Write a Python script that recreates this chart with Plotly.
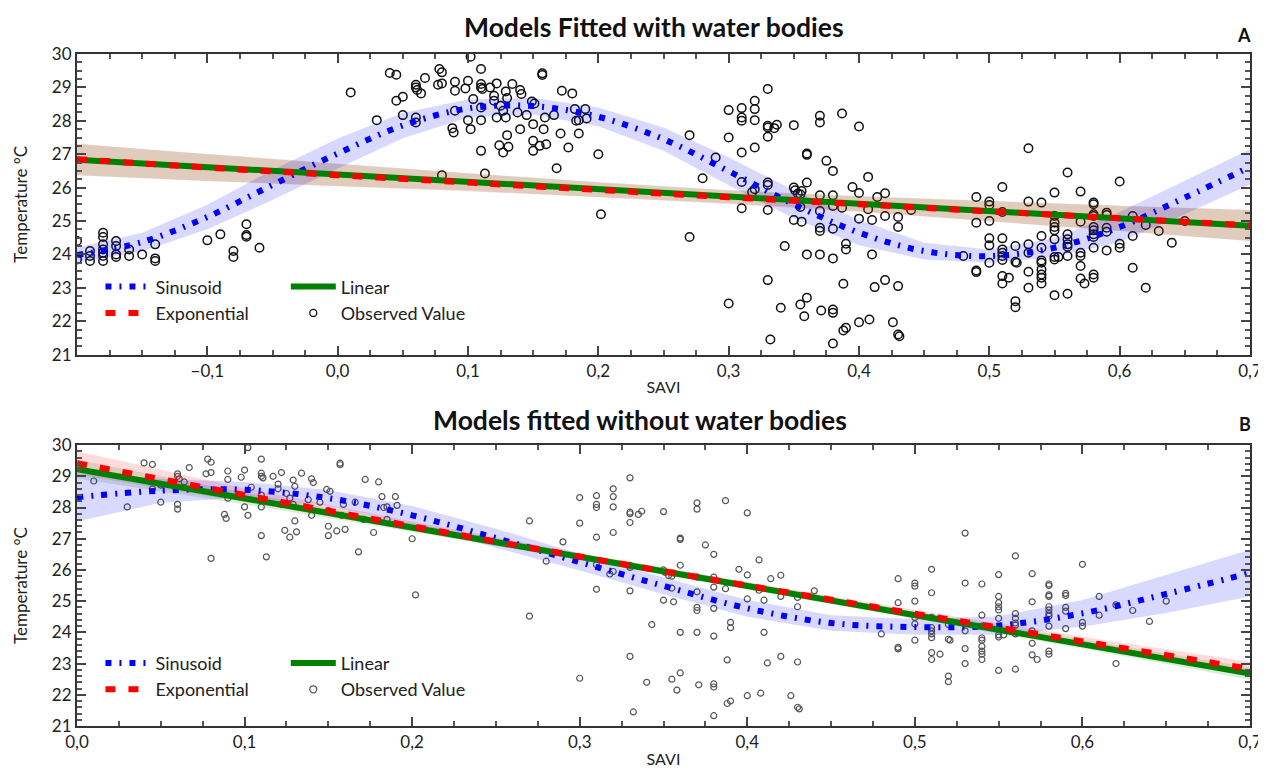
import plotly.graph_objects as go
from plotly.subplots import make_subplots

# ---------------- data ----------------
obs_x = [
    -0.20, -0.20, -0.19, -0.19, -0.19, -0.18, -0.18, -0.18, -0.18, -0.18, -0.18, -0.18,
    -0.17, -0.17, -0.17, -0.17, -0.16, -0.16, -0.15, -0.14, -0.14, -0.14,
    -0.10, -0.09, -0.08, -0.08, -0.07, -0.07, -0.07, -0.06, 0.01,
    0.03, 0.04, 0.045, 0.045, 0.05, 0.05, 0.06, 0.06, 0.061, 0.06, 0.06, 0.064, 0.067,
    0.078, 0.08, 0.077, 0.08, 0.088, 0.089, 0.09, 0.09, 0.09, 0.08, 0.098, 0.10, 0.102,
    0.10, 0.102, 0.104, 0.11, 0.11, 0.11, 0.111, 0.11, 0.11, 0.11, 0.113, 0.117, 0.12,
    0.12, 0.122, 0.122, 0.124, 0.125, 0.127, 0.127, 0.129, 0.13, 0.129, 0.13, 0.131,
    0.134, 0.138, 0.14, 0.141, 0.14, 0.145, 0.149, 0.15, 0.15, 0.15, 0.151, 0.155,
    0.157, 0.157, 0.159, 0.16, 0.158, 0.166, 0.168, 0.171, 0.172, 0.177, 0.18, 0.182,
    0.183, 0.185, 0.185, 0.19, 0.191, 0.20, 0.202,
    0.27, 0.27, 0.28, 0.29, 0.30, 0.30, 0.30, 0.31, 0.31, 0.31, 0.31, 0.31, 0.31,
    0.32, 0.32, 0.32, 0.32, 0.318, 0.32, 0.33, 0.33, 0.33, 0.33, 0.33, 0.33, 0.33,
    0.33, 0.332, 0.335, 0.337, 0.34, 0.343, 0.35, 0.35, 0.351, 0.353, 0.355, 0.356,
    0.35, 0.356, 0.355, 0.355, 0.358, 0.36, 0.36, 0.36, 0.36, 0.36, 0.37, 0.37, 0.37,
    0.37, 0.37, 0.37, 0.37, 0.371, 0.375, 0.38, 0.38, 0.38, 0.38, 0.38, 0.38, 0.38,
    0.38, 0.387, 0.387, 0.39, 0.39, 0.388, 0.388, 0.39, 0.395, 0.40, 0.40, 0.40, 0.40,
    0.407, 0.407, 0.408, 0.41, 0.41, 0.412, 0.414, 0.42, 0.42, 0.42, 0.426, 0.43, 0.43,
    0.43, 0.43, 0.431, 0.44,
    0.48, 0.49, 0.49, 0.49, 0.49, 0.50, 0.50, 0.50, 0.50, 0.50, 0.50, 0.51, 0.51, 0.51,
    0.51, 0.51, 0.51, 0.51, 0.51, 0.51, 0.515, 0.52, 0.52, 0.521, 0.52, 0.52, 0.53, 0.53,
    0.53, 0.53, 0.53, 0.53, 0.54, 0.54, 0.54, 0.54, 0.54, 0.54, 0.54, 0.54, 0.54, 0.55,
    0.55, 0.55, 0.55, 0.55, 0.55, 0.55, 0.55, 0.553, 0.55, 0.56, 0.56, 0.56, 0.56, 0.56,
    0.56, 0.56, 0.57, 0.57, 0.57, 0.57, 0.57, 0.57, 0.573, 0.58, 0.58, 0.58, 0.58, 0.58,
    0.58, 0.58, 0.58, 0.58, 0.58, 0.58, 0.59, 0.59, 0.59, 0.59, 0.59, 0.60, 0.60, 0.60,
    0.61, 0.61, 0.61, 0.62, 0.62, 0.63, 0.64, 0.65,
]
obs_y = [
    24.40, 23.85, 24.10, 23.95, 23.80, 24.65, 24.52, 24.30, 24.15, 24.05, 23.95, 23.80,
    24.40, 24.25, 24.00, 23.92, 24.15, 23.95, 24.00, 24.30, 23.88, 23.80,
    24.42, 24.60, 24.10, 23.92, 24.90, 24.58, 24.53, 24.20, 28.85,
    28.02, 29.43, 29.38, 28.60, 28.72, 28.17, 29.08, 29.00, 28.92, 28.10, 27.95, 28.82, 29.28,
    29.55, 29.45, 29.08, 29.12, 27.78, 27.65, 29.17, 28.90, 28.30, 26.37, 28.97, 29.20, 29.92,
    28.02, 27.75, 28.65, 29.55, 29.10, 29.00, 28.95, 28.40, 28.02, 27.10, 26.42, 29.00, 28.75,
    28.60, 29.12, 28.10, 27.27, 28.45, 28.30, 27.05, 28.88, 28.68, 28.10, 27.57, 27.22,
    29.10, 28.25, 28.92, 28.80, 27.75, 28.17, 28.58, 27.90, 27.40, 27.10, 28.52, 27.25,
    29.42, 29.37, 28.10, 27.30, 27.75, 28.17, 26.58, 27.62, 28.90, 27.20, 28.82, 28.35,
    28.00, 28.02, 27.62, 28.35, 28.07, 27.00, 25.20,
    27.57, 24.52, 26.28, 26.90, 28.32, 27.50, 22.53, 28.38, 28.10, 28.00, 27.05, 26.17, 25.38,
    28.60, 28.35, 28.02, 27.20, 25.87, 25.95, 28.95, 27.85, 27.80, 27.52, 26.15, 26.08, 25.33,
    23.23, 21.45, 27.78, 27.88, 22.40, 24.25, 27.87, 26.00, 25.92, 25.82, 25.80, 25.90,
    25.03, 24.98, 25.42, 22.50, 22.15, 27.02, 26.98, 26.15, 22.70, 24.00, 28.15, 27.95, 25.77,
    25.30, 24.80, 24.70, 24.00, 22.32, 26.80, 26.50, 25.77, 25.45, 24.77, 23.88, 22.35, 22.25,
    21.33, 28.22, 25.40, 24.32, 24.15, 23.12, 21.72, 21.80, 26.02, 27.83, 25.84, 25.07, 21.97,
    26.32, 25.35, 22.05, 25.03, 24.00, 23.02, 25.72, 25.83, 25.15, 23.23, 21.97, 25.12, 24.82,
    23.05, 21.60, 21.55, 25.33,
    23.95, 25.72, 24.95, 23.52, 23.47, 25.58, 25.48, 25.00, 24.48, 24.27, 23.75, 26.02, 25.27,
    24.48, 24.15, 24.05, 23.95, 23.83, 23.35, 23.13, 23.30, 24.25, 23.78, 23.75, 22.60, 22.42,
    27.18, 25.58, 24.30, 24.05, 23.48, 23.00, 25.55, 24.55, 24.20, 23.82, 23.75, 23.55, 23.40,
    23.30, 23.13, 25.85, 25.15, 24.95, 24.82, 24.72, 24.45, 23.92, 23.85, 23.92, 22.78, 26.45,
    24.60, 24.45, 24.30, 24.23, 23.95, 22.82, 25.88, 24.98, 24.05, 23.95, 23.65, 23.28, 23.13,
    25.55, 25.50, 25.20, 25.15, 24.82, 24.72, 24.60, 24.52, 24.20, 23.40, 23.30, 25.25, 25.18,
    24.80, 24.68, 24.12, 26.18, 24.32, 24.20, 25.15, 24.55, 23.60, 24.88, 23.00, 24.70, 24.35,
    25.00,
]

# Panel A fitted models
xA_sin = [-0.20, -0.15, -0.10, -0.05, 0.00, 0.05, 0.10, 0.15, 0.20, 0.25, 0.30, 0.35,
          0.40, 0.45, 0.50, 0.55, 0.60, 0.65, 0.70]
sinA = [23.98, 24.37, 25.12, 26.08, 27.02, 27.86, 28.37, 28.44, 28.12, 27.45, 26.49, 25.50,
        24.65, 24.10, 23.95, 24.20, 24.82, 25.70, 26.62]
sinA_lo = [23.75, 24.09, 24.75, 25.63, 26.57, 27.48, 28.10, 28.19, 27.84, 27.10, 26.07, 25.08,
           24.27, 23.85, 23.75, 23.92, 24.37, 25.20, 26.09]
sinA_hi = [24.21, 24.65, 25.49, 26.53, 27.47, 28.24, 28.64, 28.69, 28.40, 27.80, 26.91, 25.92,
           25.03, 24.35, 24.15, 24.48, 25.27, 26.20, 27.15]
xA_lin = [-0.2, -0.1, 0.0, 0.1, 0.2, 0.3, 0.4, 0.5, 0.6, 0.7]
linA = [26.83, 26.61, 26.39, 26.17, 25.95, 25.73, 25.52, 25.30, 25.08, 24.86]
linA_lo = [26.36, 26.21, 26.05, 25.91, 25.73, 25.53, 25.29, 25.00, 24.70, 24.39]
linA_hi = [27.30, 27.01, 26.73, 26.43, 26.17, 25.93, 25.75, 25.60, 25.46, 25.33]
expA = [26.85, 26.60, 26.37, 26.15, 25.93, 25.71, 25.50, 25.29, 25.08, 24.87]
expA_lo = [26.38, 26.19, 26.04, 25.89, 25.71, 25.51, 25.27, 24.99, 24.71, 24.41]
expA_hi = [27.32, 27.00, 26.71, 26.42, 26.15, 25.91, 25.73, 25.59, 25.45, 25.33]

# Panel B fitted models
xB_sin = [0.00, 0.05, 0.10, 0.15, 0.20, 0.25, 0.30, 0.35, 0.40, 0.45, 0.50, 0.55, 0.60, 0.65, 0.70]
sinB = [28.33, 28.54, 28.57, 28.30, 27.75, 27.02, 26.25, 25.49, 24.77, 24.30, 24.17, 24.22,
        24.61, 25.23, 25.90]
sinB_lo = [27.55, 28.15, 28.32, 28.05, 27.45, 26.72, 25.98, 25.22, 24.50, 24.05, 23.92, 23.92,
           24.18, 24.62, 25.15]
sinB_hi = [29.10, 28.92, 28.82, 28.56, 28.05, 27.32, 26.52, 25.76, 25.04, 24.55, 24.42, 24.52,
           25.04, 25.84, 26.65]
xB_lin = [0.0, 0.1, 0.2, 0.3, 0.4, 0.5, 0.6, 0.7]
linB = [29.23, 28.29, 27.36, 26.42, 25.49, 24.55, 23.62, 22.68]
linB_lo = [28.93, 28.10, 27.22, 26.31, 25.38, 24.44, 23.48, 22.48]
linB_hi = [29.53, 28.48, 27.50, 26.53, 25.60, 24.66, 23.76, 22.88]
expB = [29.42, 28.40, 27.40, 26.43, 25.50, 24.60, 23.71, 22.83]
expB_lo = [29.05, 28.18, 27.25, 26.32, 25.39, 24.48, 23.56, 22.60]
expB_hi = [29.80, 28.62, 27.55, 26.54, 25.61, 24.72, 23.86, 23.06]

# axis tick labels
xticksA = [-0.1, 0.0, 0.1, 0.2, 0.3, 0.4, 0.5, 0.6, 0.7]
xticksB = [0.0, 0.1, 0.2, 0.3, 0.4, 0.5, 0.6, 0.7]
yticks = [21, 22, 23, 24, 25, 26, 27, 28, 29, 30]

titles = ["Models Fitted with water bodies", "Models fitted without water bodies"]
panel_labels = ["A", "B"]

# ---------------- figure ----------------
FONT = "Lato"
BLUE, RED, GREEN = "rgb(0,0,255)", "rgb(255,0,0)", "rgb(0,128,0)"

fig = make_subplots(rows=2, cols=1)


def band(x, lo, hi, color, row):
    fig.add_trace(go.Scatter(x=list(x) + list(x)[::-1], y=list(hi) + list(lo)[::-1],
                             fill="toself", fillcolor=color, line=dict(width=0),
                             mode="lines", hoverinfo="skip", showlegend=False),
                  row=row, col=1)


def panel(row, ox, oy, xs, s, s_lo, s_hi, xl, l, l_lo, l_hi, e, e_lo, e_hi,
          msize, mcolor, mline, lg1, lg2):
    fig.add_trace(go.Scatter(x=ox, y=oy, mode="markers", name="Observed Value",
                             marker=dict(symbol="circle-open", size=msize, color=mcolor,
                                         line=dict(width=mline, color=mcolor)),
                             legend=lg2, showlegend=False), row=row, col=1)
    band(xl, l_lo, l_hi, "rgba(0,128,0,0.14)", row)
    band(xl, e_lo, e_hi, "rgba(255,0,0,0.14)", row)
    band(xs, s_lo, s_hi, "rgba(0,0,255,0.15)", row)
    fig.add_trace(go.Scatter(x=xs, y=s, mode="lines", name="Sinusoid", legend=lg1,
                             line=dict(color=BLUE, width=6, dash="6px,8px,2px,8px",
                                       shape="spline", smoothing=1.0)), row=row, col=1)
    fig.add_trace(go.Scatter(x=xl, y=l, mode="lines", name="Linear", legend=lg2,
                             line=dict(color=GREEN, width=6)), row=row, col=1)
    fig.add_trace(go.Scatter(x=xl, y=e, mode="lines", name="Exponential", legend=lg1,
                             line=dict(color=RED, width=6, dash="10px,13px",
                                       shape="spline")), row=row, col=1)
    # legend entry for observed values
    fig.add_trace(go.Scatter(x=[None], y=[None], mode="markers", name="Observed Value",
                             marker=dict(symbol="circle-open", size=7, color=mcolor,
                                         line=dict(width=1.3, color=mcolor)),
                             legend=lg2), row=row, col=1)


panel(1, obs_x, obs_y, xA_sin, sinA, sinA_lo, sinA_hi, xA_lin, linA, linA_lo, linA_hi,
      expA, expA_lo, expA_hi, 8.5, "#111", 1.5, "legend", "legend2")
obsB = [(x, y) for x, y in zip(obs_x, obs_y) if x >= 0]
panel(2, [p[0] for p in obsB], [p[1] for p in obsB], xB_sin, sinB, sinB_lo, sinB_hi,
      xB_lin, linB, linB_lo, linB_hi, expB, expB_lo, expB_hi, 6, "#555", 1.2,
      "legend3", "legend4")

axis_common = dict(showgrid=False, zeroline=False, showline=True, linecolor="#333",
                   linewidth=2, mirror="ticks", ticks="inside", ticklen=9, tickwidth=1.5,
                   tickcolor="#444", tickfont=dict(family=FONT, size=17, color="#222"))

fig.update_xaxes(**axis_common, tickmode="array", tickformat=".1f",
                 title=dict(text="SAVI", font=dict(family=FONT, size=16, color="#222"),
                            standoff=2))
fig.update_yaxes(**axis_common, range=[21, 30], tickmode="array", tickvals=yticks,
                 title=dict(text="Temperature °C", font=dict(family=FONT, size=17, color="#222"),
                            standoff=20))
fig.update_xaxes(range=[-0.2, 0.7], domain=[0, 1], tickvals=xticksA,
                 minor=dict(dtick=0.025, tick0=0, ticks="inside", ticklen=5, tickcolor="#555"),
                 row=1, col=1)
fig.update_xaxes(range=[0, 0.7], domain=[0, 1], tickvals=xticksB,
                 minor=dict(dtick=0.025, tick0=0, ticks="inside", ticklen=5, tickcolor="#555"),
                 row=2, col=1)
fig.update_yaxes(domain=[0.5527, 1.0],
                 minor=dict(dtick=0.25, tick0=21, ticks="inside", ticklen=5, tickcolor="#555"),
                 row=1, col=1)
fig.update_yaxes(domain=[0.0, 0.418],
                 minor=dict(dtick=0.2, tick0=21, ticks="inside", ticklen=5, tickcolor="#555"),
                 row=2, col=1)

leg_common = dict(bgcolor="rgba(0,0,0,0)", borderwidth=0, itemwidth=45,
                  font=dict(family=FONT, size=18, color="#222"),
                  xanchor="left", yanchor="top", tracegroupgap=0)
fig.update_layout(
    legend=dict(**leg_common, x=0.02, y=0.681),
    legend2=dict(**leg_common, x=0.178, y=0.681),
    legend3=dict(**leg_common, x=0.02, y=0.121),
    legend4=dict(**leg_common, x=0.178, y=0.121),
)

annots = [
    dict(text=f"<b>{titles[0]}</b>", x=0.492, y=1.04),
    dict(text=f"<b>{titles[1]}</b>", x=0.480, y=0.4547),
    dict(text=f"<b>{panel_labels[0]}</b>", x=0.995, y=1.028),
    dict(text=f"<b>{panel_labels[1]}</b>", x=0.996, y=0.450),
]
for i, a in enumerate(annots):
    fig.add_annotation(text=a["text"], x=a["x"], y=a["y"], xref="paper", yref="paper",
                       showarrow=False, xanchor="center", yanchor="middle",
                       font=dict(family=FONT, size=26.5 if i < 2 else 18, color="#111"))

fig.update_layout(width=1266, height=770, separators=",.",
                  margin=dict(l=66, r=22, t=46, b=51),
                  plot_bgcolor="white", paper_bgcolor="white",
                  font=dict(family=FONT))

fig.write_html("out.html")
